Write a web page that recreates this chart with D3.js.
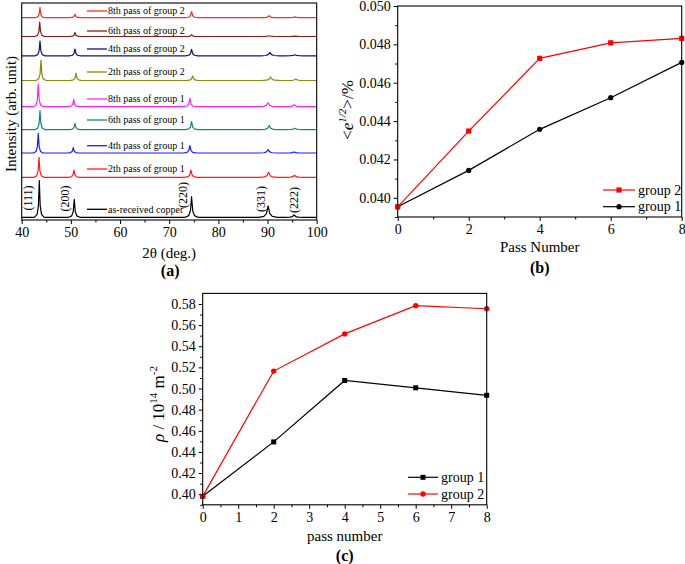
<!DOCTYPE html>
<html><head><meta charset="utf-8">
<script src="https://cdn.jsdelivr.net/npm/d3@7"></script>
<style>
body{margin:0;background:#fff;}
svg text{font-family:'Liberation Serif','Times New Roman',Times,serif !important;fill:#000;}
</style>
</head><body>
<svg id="fig" width="685" height="564" font-family="Liberation Serif, serif"></svg>
<script>
// ---------- Panel (a) data: XRD patterns ----------
const xrdNames = ["as-received copper","2th pass of group 1","4th pass of group 1","6th pass of group 1","8th pass of group 1",
                  "2th pass of group 2","4th pass of group 2","6th pass of group 2","8th pass of group 2"];
const xrdColors = ["#000000","#ff1a1a","#1a1aff","#138484","#ff22ff","#8a8a10","#10108a","#8a1a1a","#ff2a2a"];
const xrdOffsets = [2.7, 42.7, 67, 90.4, 113.3, 139.5, 164.2, 183.5, 202.3];
const xrdPeakNames = ["(111)","(200)","(220)","(331)","(222)"];
const xrdPeakPos = [
  [43.58,50.69,74.55,90.12,95.41],
  [43.52,50.63,74.41,90.20,95.48],
  [43.37,50.49,74.21,90.12,95.41],
  [43.72,50.83,74.55,90.33,95.55],
  [43.37,50.57,74.21,90.12,95.41],
  [43.92,51.04,74.76,90.61,95.75],
  [43.72,50.83,74.55,90.47,95.55],
  [43.66,50.83,74.55,90.33,95.55],
  [43.72,50.83,74.55,90.33,95.55]
];
const xrdPeakHeights = [
  [36.6,18.0,20.6,11.3,2.3],
  [20.0,7.3,7.3,5.0,2.0],
  [19.7,5.3,7.3,3.3,1.0],
  [19.0,6.3,8.0,4.0,1.3],
  [22.7,7.4,8.4,4.0,2.0],
  [20.5,7.5,4.5,3.5,1.5],
  [14.8,6.8,6.5,3.5,1.0],
  [14.5,4.0,1.8,0.8,0.4],
  [10.4,3.5,6.0,2.0,0.8]
];
const peakWidthScale = [1.0,1.15,1.3,1.9,1.9];
const peakProfileDx = [-1.0,-0.45,-0.18,0,0.18,0.45,1.0];
const peakProfileFrac = [0,0.08,0.32,1,0.32,0.08,0];
const xrdLabelY = [209.3,169,145.7,120,99,72,49,31,11];
const xrdTicks = [40,50,60,70,80,90,100];
const xrdMinor = [45,55,65,75,85,95];

// ---------- Panel (b) data ----------
const passB = [0,2,4,6,8];
const strainG2 = [0.03953,0.04348,0.04727,0.04808,0.04831];
const strainG1 = [0.03953,0.04143,0.04357,0.04522,0.04706];
const bTicksY = [0.040,0.042,0.044,0.046,0.048,0.050];
const bMinorY = [0.039,0.041,0.043,0.045,0.047,0.049];
const bTicksX = [0,2,4,6,8];
const bMinorX = [1,3,5,7];

// ---------- Panel (c) data ----------
const passC = [0,2,4,6,8];
const rhoG1 = [0.398,0.4495,0.5076,0.5007,0.4936];
const rhoG2 = [0.398,0.5165,0.5517,0.5784,0.5755];
const cTicksY = [0.40,0.42,0.44,0.46,0.48,0.50,0.52,0.54,0.56,0.58];
const cMinorY = [0.39,0.41,0.43,0.45,0.47,0.49,0.51,0.53,0.55,0.57];
const cTicksX = [0,1,2,3,4,5,6,7,8];
const cMinorX = [0.5,1.5,2.5,3.5,4.5,5.5,6.5,7.5];

const FONT = "'Liberation Serif', 'Times New Roman', serif";
const svg = d3.select("#fig");

function bottomAxis(g, x, y0, ticks, minor, fmt){
  g.append("g").attr("transform",`translate(0,${y0})`)
    .call(d3.axisBottom(x).tickValues(ticks).tickSize(4).tickSizeOuter(0).tickPadding(3).tickFormat(fmt))
    .call(a=>{a.attr("font-family",FONT);a.select(".domain").remove();a.selectAll("text").style("font-size","14px");});
  g.append("g").attr("transform",`translate(0,${y0})`)
    .call(d3.axisBottom(x).tickValues(minor).tickSize(2.5).tickFormat(""))
    .call(a=>a.select(".domain").remove());
}
function leftAxis(g, y, x0, ticks, minor, fmt){
  g.append("g").attr("transform",`translate(${x0},0)`)
    .call(d3.axisLeft(y).tickValues(ticks).tickSize(4).tickSizeOuter(0).tickPadding(3).tickFormat(fmt))
    .call(a=>{a.attr("font-family",FONT);a.select(".domain").remove();a.selectAll("text").style("font-size","14px");});
  g.append("g").attr("transform",`translate(${x0},0)`)
    .call(d3.axisLeft(y).tickValues(minor).tickSize(2.5).tickFormat(""))
    .call(a=>a.select(".domain").remove());
}
function frame(g,x0,x1,y0,y1){
  g.append("rect").attr("x",x0).attr("y",y1).attr("width",x1-x0).attr("height",y0-y1)
   .attr("fill","none").attr("stroke","#000").attr("stroke-width",1.1);
}

// ================= Panel (a) =================
{
  const L=21.7,R=316.7,T=3,B=220;
  const x=d3.scaleLinear().domain([40,100]).range([L,R]);
  const y=d3.scaleLinear().domain([0,217]).range([B,T]);
  const g=svg.append("g");
  const line=d3.line().x(d=>x(d[0])).y(d=>y(d[1]));
  xrdNames.forEach((name,i)=>{
    let pts=[[40,0]];
    xrdPeakPos[i].forEach((p,k)=>{
      peakProfileDx.forEach((dx,j)=>{
        pts.push([p+dx*peakWidthScale[k], xrdPeakHeights[i][k]*peakProfileFrac[j]]);
      });
    });
    pts.push([100,0]);
    pts=pts.map(d=>[d[0],d[1]+xrdOffsets[i]]);
    g.append("path").datum(pts).attr("d",line).attr("fill","none")
      .attr("stroke",xrdColors[i]).attr("stroke-width",1.2).attr("stroke-linejoin","round");
    g.append("line").attr("x1",87).attr("x2",107).attr("y1",xrdLabelY[i]).attr("y2",xrdLabelY[i])
      .attr("stroke",xrdColors[i]).attr("stroke-width",1.3);
    g.append("text").attr("x",108).attr("y",xrdLabelY[i]+3.3).style("font-size","10px").text(name);
  });
  const peakLabelX=[27.8,65.2,182.5,261,293.5];
  const peakLabelY=[198,198.5,195,199,200];
  xrdPeakNames.forEach((t,k)=>{
    g.append("text").attr("transform",`translate(${peakLabelX[k]+4},${peakLabelY[k]}) rotate(-90)`)
      .attr("text-anchor","middle").style("font-size","12px").text(t);
  });
  frame(g,L,R,B,T);
  bottomAxis(g,x,B,xrdTicks,xrdMinor,d3.format("d"));
  g.append("text").attr("x",(L+R)/2).attr("y",258).attr("text-anchor","middle").style("font-size","15px").text("2θ (deg.)");
  g.append("text").attr("x",(L+R)/2+1).attr("y",276).attr("text-anchor","middle").style("font-size","16px").style("font-weight","bold").text("(a)");
  g.append("text").attr("transform",`translate(16,114) rotate(-90)`).attr("text-anchor","middle").style("font-size","15px").text("Intensity (arb. unit)");
}

// ================= Panel (b) =================
{
  const L=397.7,R=681.7,T=6,B=217;
  const x=d3.scaleLinear().domain([0,8]).range([L,R]);
  const y=d3.scaleLinear().domain([0.039,0.050]).range([B,T]);
  const g=svg.append("g");
  leftAxis(g,y,L,bTicksY,bMinorY,d3.format(".3f"));
  bottomAxis(g,x,B,bTicksX,bMinorX,d3.format("d"));
  const line=d3.line().x((d,i)=>x(passB[i])).y(d=>y(d));
  g.append("path").datum(strainG1).attr("d",line).attr("fill","none").attr("stroke","#000").attr("stroke-width",1.2);
  g.append("path").datum(strainG2).attr("d",line).attr("fill","none").attr("stroke","#ff0000").attr("stroke-width",1.2);
  g.selectAll(".c1").data(strainG1).enter().append("circle").attr("cx",(d,i)=>x(passB[i])).attr("cy",d=>y(d)).attr("r",2.6).attr("fill","#000");
  g.selectAll(".s2").data(strainG2).enter().append("rect").attr("x",(d,i)=>x(passB[i])-2.6).attr("y",d=>y(d)-2.6).attr("width",5.2).attr("height",5.2).attr("fill","#ff0000");
  frame(g,L,R,B,T);
  g.append("line").attr("x1",603).attr("x2",635).attr("y1",190).attr("y2",190).attr("stroke","#ff0000").attr("stroke-width",1.2);
  g.append("rect").attr("x",616.4).attr("y",187.4).attr("width",5.2).attr("height",5.2).attr("fill","#ff0000");
  g.append("text").attr("x",638).attr("y",194.5).style("font-size","14px").text("group 2");
  g.append("line").attr("x1",603).attr("x2",635).attr("y1",206.7).attr("y2",206.7).attr("stroke","#000").attr("stroke-width",1.2);
  g.append("circle").attr("cx",619).attr("cy",206.7).attr("r",2.6).attr("fill","#000");
  g.append("text").attr("x",638).attr("y",211.2).style("font-size","14px").text("group 1");
  g.append("text").attr("x",(L+R)/2).attr("y",252).attr("text-anchor","middle").style("font-size","15px").text("Pass Number");
  g.append("text").attr("x",(L+R)/2).attr("y",273).attr("text-anchor","middle").style("font-size","16px").style("font-weight","bold").text("(b)");
  const yl=g.append("text").attr("transform",`translate(353,110) rotate(-90)`).attr("text-anchor","middle").style("font-size","17px");
  yl.append("tspan").text("<");
  yl.append("tspan").style("font-style","italic").text("e");
  yl.append("tspan").attr("dy",-7).style("font-size","11px").style("font-style","italic").text("1/2");
  yl.append("tspan").attr("dy",7).text(">/%");
}

// ================= Panel (c) =================
{
  const L=202.7,R=486.7,T=293.4,B=504.8;
  const x=d3.scaleLinear().domain([0,8]).range([L,R]);
  const y=d3.scaleLinear().domain([0.39,0.59]).range([B,T]);
  const g=svg.append("g");
  leftAxis(g,y,L,cTicksY,cMinorY,d3.format(".2f"));
  bottomAxis(g,x,B,cTicksX,cMinorX,d3.format("d"));
  const line=d3.line().x((d,i)=>x(passC[i])).y(d=>y(d));
  g.append("path").datum(rhoG1).attr("d",line).attr("fill","none").attr("stroke","#000").attr("stroke-width",1.2);
  g.append("path").datum(rhoG2).attr("d",line).attr("fill","none").attr("stroke","#ff0000").attr("stroke-width",1.2);
  g.selectAll(".s1").data(rhoG1).enter().append("rect").attr("x",(d,i)=>x(passC[i])-2.5).attr("y",d=>y(d)-2.5).attr("width",5).attr("height",5).attr("fill","#000");
  g.selectAll(".c2").data(rhoG2).enter().append("circle").attr("cx",(d,i)=>x(passC[i])).attr("cy",d=>y(d)).attr("r",2.7).attr("fill","#ff0000");
  frame(g,L,R,B,T);
  g.append("line").attr("x1",408).attr("x2",438).attr("y1",477.3).attr("y2",477.3).attr("stroke","#000").attr("stroke-width",1.2);
  g.append("rect").attr("x",420.5).attr("y",474.8).attr("width",5).attr("height",5).attr("fill","#000");
  g.append("text").attr("x",441).attr("y",482).style("font-size","14px").text("group 1");
  g.append("line").attr("x1",408).attr("x2",438).attr("y1",494).attr("y2",494).attr("stroke","#ff0000").attr("stroke-width",1.2);
  g.append("circle").attr("cx",423).attr("cy",494).attr("r",2.7).attr("fill","#ff0000");
  g.append("text").attr("x",441).attr("y",498.7).style("font-size","14px").text("group 2");
  g.append("text").attr("x",(L+R)/2).attr("y",541).attr("text-anchor","middle").style("font-size","15px").text("pass number");
  g.append("text").attr("x",(L+R)/2).attr("y",561).attr("text-anchor","middle").style("font-size","16px").style("font-weight","bold").text("(c)");
  const yl=g.append("text").attr("transform",`translate(164,404) rotate(-90)`).attr("text-anchor","middle").style("font-size","17px");
  yl.append("tspan").style("font-style","italic").text("ρ");
  yl.append("tspan").text(" / 10");
  yl.append("tspan").attr("dy",-7).style("font-size","11px").text("14");
  yl.append("tspan").attr("dy",7).text(" m");
  yl.append("tspan").attr("dy",-7).style("font-size","11px").text("-2");
}
</script>
</body></html>
